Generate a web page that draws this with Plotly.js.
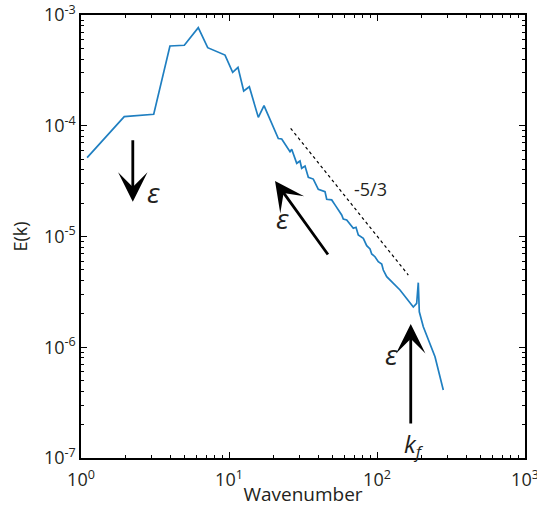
<!DOCTYPE html>
<html>
<head>
<meta charset="utf-8">
<script src="https://cdn.plot.ly/plotly-3.0.1.min.js"></script>
<style>html,body{margin:0;padding:0;background:#fff;}#chart{width:537px;height:507px;}</style>
</head>
<body>
<div id="chart"></div>
<script>
// Energy spectrum E(k)
var wavenumber = [1.10, 1.96, 3.10, 3.99, 4.99, 6.20, 7.18, 9.40, 10.59, 11.50, 12.57, 13.72, 15.78, 17.24,
  21.54, 22.71, 25.84, 26.52, 28.68, 30.18, 30.98, 32.63, 34.35, 37.12, 40.12, 44.53, 45.72, 49.42, 52.03,
  57.73, 59.19, 62.41, 69.17, 72.14, 74.74, 80.81, 85.2, 89.7, 92.1, 96.9, 102.0, 107.6, 110.3, 116.3,
  143.0, 175.9, 185.4, 190.1, 193.1, 205.5, 246.6, 280.5];
var energy = [5.15e-5, 1.21e-4, 1.27e-4, 5.25e-4, 5.33e-4, 7.68e-4, 5.07e-4, 4.35e-4, 3.04e-4, 3.37e-4, 2.06e-4, 2.25e-4, 1.19e-4, 1.52e-4,
  7.67e-5, 7.59e-5, 5.83e-5, 6.13e-5, 4.58e-5, 4.81e-5, 4.13e-5, 4.33e-5, 3.42e-5, 3.30e-5, 2.67e-5, 2.54e-5, 2.17e-5, 2.14e-5, 1.93e-5,
  1.563e-5, 1.439e-5, 1.41e-5, 1.186e-5, 1.211e-5, 1.031e-5, 9.63e-6, 8.26e-6, 7.71e-6, 6.95e-6, 6.57e-6, 5.92e-6, 5.64e-6, 4.98e-6, 4.34e-6,
  3.29e-6, 2.31e-6, 2.49e-6, 3.83e-6, 2.09e-6, 1.533e-6, 8.22e-7, 4.11e-7];

// -5/3 reference slope line
var slopeK = [26.1, 162.7];
var slopeE = [9.48e-5, 4.49e-6];

// tick labels
var xTickVals = [1, 10, 100, 1000];
var xTickText = ['10<sup>0</sup>', '10<sup>1</sup>', '10<sup>2</sup>', '10<sup>3</sup>'];
var yTickVals = [1e-7, 1e-6, 1e-5, 1e-4, 1e-3];
var yTickText = ['10<sup>-7</sup>', '10<sup>-6</sup>', '10<sup>-5</sup>', '10<sup>-4</sup>', '10<sup>-3</sup>'];

function minorTicks(e0, e1) {
  var v = [];
  for (var e = e0; e < e1; e++) for (var d = 2; d <= 9; d++) v.push(d * Math.pow(10, e));
  return v;
}

var FONT = '"Open Sans", "DejaVu Sans", sans-serif';
var INK = '#231f20';

var traces = [
  {x: wavenumber, y: energy, type: 'scatter', mode: 'lines',
   line: {color: '#1f7fc1', width: 1.7}, hoverinfo: 'skip'},
  {x: slopeK, y: slopeE, type: 'scatter', mode: 'lines',
   line: {color: '#000', width: 1.2, dash: 'dot'}, hoverinfo: 'skip'}
];

function axisCommon() {
  return {
    type: 'log', showgrid: false, zeroline: false,
    showline: true, linecolor: '#000', linewidth: 1.6, mirror: 'ticks',
    ticks: 'inside', ticklen: 6, tickwidth: 1, tickcolor: '#000',
    tickmode: 'array',
    tickfont: {family: FONT, size: 18, color: INK}
  };
}

var xa = axisCommon();
xa.range = [0, 3];
xa.tickvals = xTickVals; xa.ticktext = xTickText;
xa.ticklabelstandoff = 5;
xa.ticklabeloverflow = 'allow';
xa.minor = {ticks: 'inside', ticklen: 3, tickwidth: 1, tickcolor: '#000', tickvals: minorTicks(0, 3), showgrid: false};
xa.title = {text: 'Wavenumber', font: {family: FONT, size: 19, color: INK}, standoff: 0};

var ya = axisCommon();
ya.range = [-7, -3];
ya.tickvals = yTickVals; ya.ticktext = yTickText;
ya.ticklabeloverflow = 'allow';
ya.minor = {ticks: 'inside', ticklen: 3, tickwidth: 1, tickcolor: '#000', tickvals: minorTicks(-7, -3), showgrid: false};
ya.title = {text: 'E(k)', font: {family: FONT, size: 18, color: INK}, standoff: 11};

function arrow(xl, yl, ax, ay) {
  return {x: xl, y: yl, xref: 'x', yref: 'y', ax: ax, ay: ay, axref: 'pixel', ayref: 'pixel',
          text: '', showarrow: true, arrowhead: 3, arrowsize: 1.75, arrowwidth: 2.8,
          arrowcolor: '#000', standoff: 0, startstandoff: 0};
}
function label(txt, xl, yl, size) {
  return {x: xl, y: yl, xref: 'x', yref: 'y', text: txt, showarrow: false,
          font: {family: FONT, size: size, color: INK}, xanchor: 'center', yanchor: 'middle'};
}

var layout = {
  width: 537, height: 507,
  margin: {l: 81, r: 12, t: 15, b: 49},
  paper_bgcolor: '#fff', plot_bgcolor: '#fff',
  showlegend: false,
  xaxis: xa, yaxis: ya,
  annotations: [
    arrow(0.350, -4.686, 0, -63),
    arrow(1.311, -4.499, 54, 75),
    arrow(2.228, -5.790, 0, 101),
    label('-5/3', 1.959, -4.571, 18),
    label('<i>ε</i>', 0.4885, -4.600, 28),
    label('<i>ε</i>', 1.3595, -4.833, 28),
    label('<i>ε</i>', 2.100, -6.061, 28),
    label('<i>k<sub>f</sub></i>', 2.25, -6.88, 24)
  ]
};

Plotly.newPlot('chart', traces, layout, {displayModeBar: false, staticPlot: true});
</script>
</body>
</html>
